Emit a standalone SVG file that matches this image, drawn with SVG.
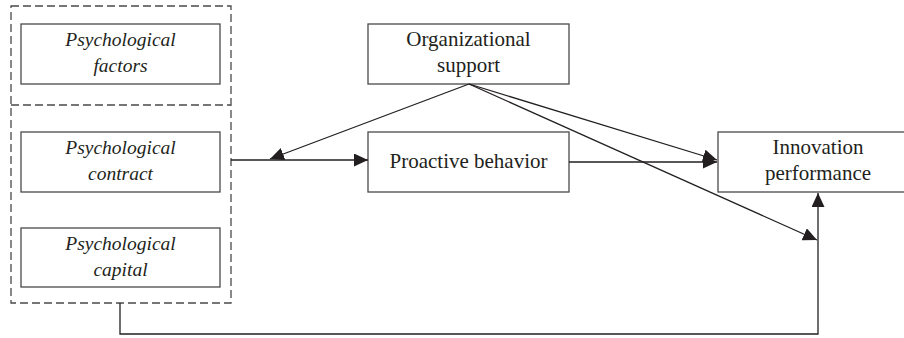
<svg xmlns="http://www.w3.org/2000/svg" width="904" height="338" viewBox="0 0 904 338">
<defs>
<style>
.box{fill:#fff;stroke:#4a4a4a;stroke-width:1.3}
.dash{fill:none;stroke:#4a4a4a;stroke-width:1.3;stroke-dasharray:8 4}
.ln{fill:none;stroke:#231f20;stroke-width:1.3}
.t{font-family:"Liberation Serif","Times New Roman",serif;font-size:21px;fill:#231f20;text-anchor:middle}
.i{font-style:italic;font-size:19.5px}
</style>
<marker id="ah" markerUnits="userSpaceOnUse" markerWidth="15" markerHeight="13" viewBox="0 0 15 13" refX="14" refY="6.5" orient="auto">
<path d="M0,0 L14,6.5 L0,13 Z" fill="#231f20"/>
</marker>
</defs>
<g id="group-psych">
<rect class="dash" x="11" y="6" width="220" height="297"/>
<line class="dash" x1="11" y1="105" x2="231" y2="105"/>
</g>
<g id="n-factors">
<rect class="box" x="21" y="24" width="199" height="60"/>
<text class="t i" x="120.5" y="46">Psychological</text>
<text class="t i" x="120.5" y="72">factors</text>
</g>
<g id="n-contract">
<rect class="box" x="21" y="132" width="199" height="60"/>
<text class="t i" x="120.5" y="154">Psychological</text>
<text class="t i" x="120.5" y="180">contract</text>
</g>
<g id="n-capital">
<rect class="box" x="21" y="228" width="199" height="59"/>
<text class="t i" x="120.5" y="250">Psychological</text>
<text class="t i" x="120.5" y="276">capital</text>
</g>
<g id="n-org">
<rect class="box" x="368" y="24" width="201" height="60"/>
<text class="t" x="468.5" y="46">Organizational</text>
<text class="t" x="468.5" y="72">support</text>
</g>
<g id="n-proactive">
<rect class="box" x="368" y="132" width="201" height="60"/>
<text class="t" x="468.5" y="168">Proactive behavior</text>
</g>
<g id="n-innovation">
<rect class="box" x="718" y="132" width="200" height="60"/>
<text class="t" x="818" y="154">Innovation</text>
<text class="t" x="818" y="180">performance</text>
</g>
<g id="connectors">
<line class="ln" x1="231" y1="160" x2="368" y2="160" marker-end="url(#ah)"/>
<line class="ln" x1="469" y1="84" x2="270" y2="159" marker-end="url(#ah)"/>
<line class="ln" x1="469" y1="84" x2="717" y2="160" marker-end="url(#ah)"/>
<line class="ln" x1="569" y1="162" x2="717" y2="162" marker-end="url(#ah)"/>
<line class="ln" x1="469" y1="84" x2="817" y2="240" marker-end="url(#ah)"/>
<polyline class="ln" points="120,303 120,334 818,334 818,193" marker-end="url(#ah)"/>
</g>
</svg>
